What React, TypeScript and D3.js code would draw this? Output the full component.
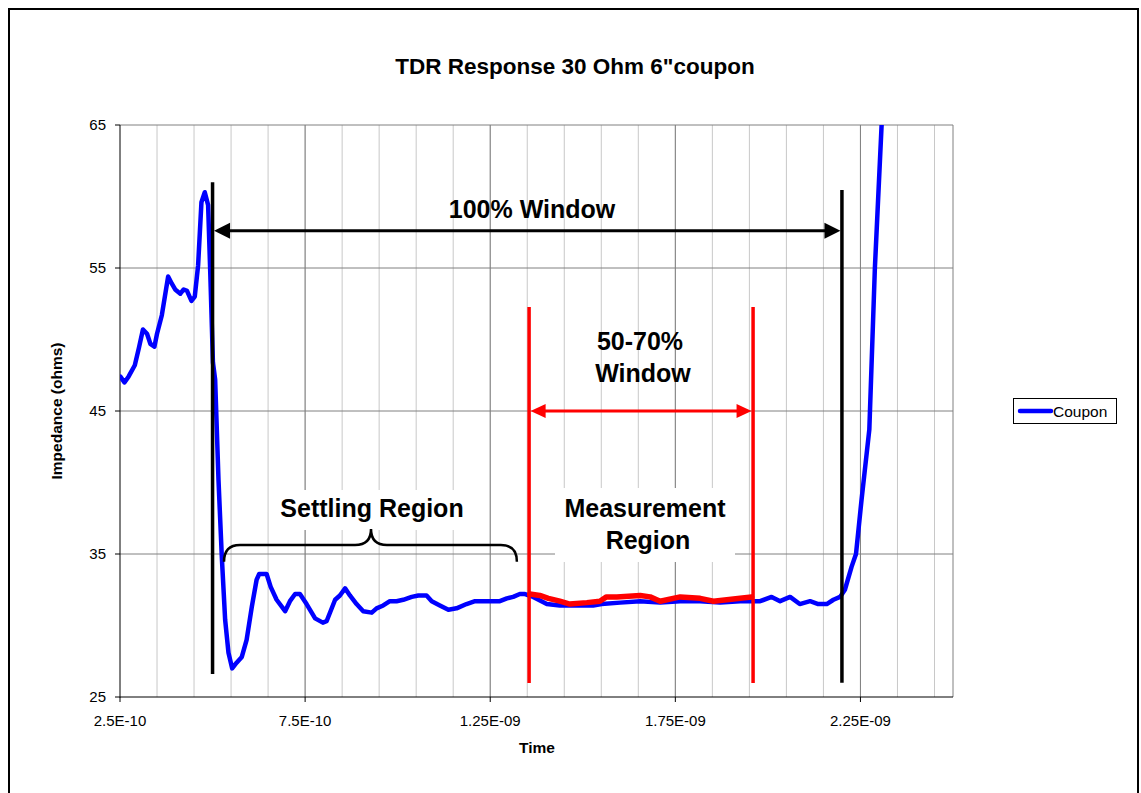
import React from "react";
import * as d3 from "d3";

// TDR trace of the 30 ohm coupon (time in seconds, impedance in ohms)
const couponTime = [
  2.51e-10, 2.62e-10, 2.73e-10, 2.9e-10, 3.01e-10, 3.12e-10, 3.23e-10, 3.32e-10, 3.43e-10, 3.5e-10,
  3.63e-10, 3.8e-10, 3.9e-10, 3.99e-10, 4.13e-10, 4.22e-10, 4.31e-10, 4.43e-10, 4.52e-10, 4.61e-10,
  4.7e-10, 4.79e-10, 4.88e-10, 4.94e-10, 5.01e-10, 5.07e-10, 5.16e-10, 5.25e-10, 5.34e-10, 5.43e-10,
  5.53e-10, 5.65e-10, 5.79e-10, 5.92e-10, 6.06e-10, 6.19e-10, 6.26e-10, 6.46e-10, 6.57e-10, 6.73e-10,
  6.96e-10, 7.09e-10, 7.23e-10, 7.36e-10, 7.54e-10, 7.77e-10, 7.98e-10, 8.08e-10, 8.31e-10, 8.44e-10,
  8.58e-10, 8.71e-10, 8.89e-10, 9.07e-10, 9.3e-10, 9.43e-10, 9.61e-10, 9.79e-10, 9.97e-10, 1.015e-9,
  1.038e-9, 1.056e-9, 1.078e-9, 1.092e-9, 1.114e-9, 1.137e-9, 1.159e-9, 1.186e-9, 1.209e-9, 1.231e-9,
  1.258e-9, 1.276e-9, 1.295e-9, 1.312e-9, 1.33e-9, 1.344e-9, 1.366e-9, 1.403e-9, 1.438e-9, 1.474e-9,
  1.528e-9, 1.551e-9, 1.601e-9, 1.655e-9, 1.709e-9, 1.763e-9, 1.817e-9, 1.871e-9, 1.925e-9, 1.979e-9,
  2.01e-9, 2.033e-9, 2.06e-9, 2.086e-9, 2.114e-9, 2.136e-9, 2.159e-9, 2.177e-9, 2.195e-9, 2.208e-9,
  2.226e-9, 2.238e-9, 2.253e-9, 2.274e-9, 2.289e-9, 2.307e-9, 2.313e-9,
];
const couponOhms = [
  47.4, 47.0, 47.4, 48.2, 49.4, 50.7, 50.4, 49.7, 49.5, 50.4,
  51.7, 54.4, 53.9, 53.5, 53.2, 53.5, 53.4, 52.7, 53.0, 55.2,
  59.6, 60.3, 59.4, 54.5, 48.4, 47.2, 40.2, 34.8, 30.4, 28.1,
  27.0, 27.4, 27.8, 29.0, 31.3, 33.2, 33.6, 33.6, 32.7, 31.8,
  31.0, 31.7, 32.2, 32.2, 31.5, 30.5, 30.2, 30.3, 31.8, 32.1,
  32.6, 32.1, 31.5, 31.0, 30.9, 31.2, 31.4, 31.7, 31.7, 31.8,
  32.0, 32.1, 32.1, 31.7, 31.4, 31.1, 31.2, 31.5, 31.7, 31.7,
  31.7, 31.7, 31.9, 32.0, 32.2, 32.2, 32.0, 31.5, 31.4, 31.4,
  31.4, 31.5, 31.6, 31.7, 31.6, 31.7, 31.7, 31.6, 31.7, 31.7,
  32.0, 31.7, 32.0, 31.5, 31.7, 31.5, 31.5, 31.8, 32.0, 32.5,
  34.1, 35.0, 38.8, 43.7, 55.0, 64.9, 68.0,
];

// Portion of the trace inside the 50-70% measurement window
const windowTime = [
  1.357e-9, 1.384e-9, 1.407e-9, 1.438e-9, 1.465e-9, 1.511e-9, 1.546e-9, 1.564e-9, 1.592e-9,
  1.655e-9, 1.682e-9, 1.709e-9, 1.763e-9, 1.817e-9, 1.853e-9, 1.889e-9, 1.925e-9, 1.956e-9,
];
const windowOhms = [
  32.2, 32.1, 31.9, 31.7, 31.5, 31.6, 31.7, 32.0, 32.0,
  32.1, 32.0, 31.7, 32.0, 31.9, 31.7, 31.8, 31.9, 32.0,
];

const xMajorTicks = [2.5e-10, 7.5e-10, 1.25e-9, 1.75e-9, 2.25e-9];
const xTickLabels = ["2.5E-10", "7.5E-10", "1.25E-09", "1.75E-09", "2.25E-09"];
const yTicks = [25, 35, 45, 55, 65];

// Annotation anchors in data units
const fullWindow = { start: 5.0e-10, end: 2.2e-9 };
const measureWindow = { start: 1.355e-9, end: 1.96e-9 };

const FONT = "Arial, 'Liberation Sans', sans-serif";

export default function App() {
  const left = 120, right = 953, top = 125, bottom = 697;
  const x = d3.scaleLinear().domain([2.5e-10, 2.5e-9]).range([left, right]);
  const y = d3.scaleLinear().domain([25, 65]).range([bottom, top]);

  const coupon = couponTime.map((t, i) => [t, couponOhms[i]] as [number, number]);
  const win = windowTime.map((t, i) => [t, windowOhms[i]] as [number, number]);
  const line = d3.line<[number, number]>().x((d) => x(d[0])).y((d) => y(d[1])).curve(d3.curveLinear);

  const minorX = d3.range(0, 22).map((i) => 3.5e-10 + i * 1e-10);

  // curly brace under "Settling Region"
  const bx0 = x(5.31e-10), bx1 = x(1.322e-9), bxm = x(9.28e-10);
  const byEnd = y(34.46), byBar = y(35.63), byTip = y(36.75);
  const r = 16;
  const brace = `M${bx0},${byEnd} Q${bx0},${byBar} ${bx0 + r},${byBar} L${bxm - r},${byBar} Q${bxm},${byBar} ${bxm},${byTip} Q${bxm},${byBar} ${bxm + r},${byBar} L${bx1 - r},${byBar} Q${bx1},${byBar} ${bx1},${byEnd}`;

  const arrowHead = (xt: number, yt: number, dir: number, len: number, half: number, fill: string) => (
    <path d={`M${xt},${yt} L${xt - dir * len},${yt - half} L${xt - dir * len},${yt + half} Z`} fill={fill} />
  );

  const blackY = y(57.6);
  const redY = y(45);

  return (
    <svg
      width={1141}
      height={793}
      style={{ position: "absolute", left: 0, top: 0, background: "#fff" }}
      fontFamily={FONT}
    >
      {/* chart frame */}
      <rect x={9} y={9} width={1129} height={800} fill="#fff" stroke="#000" strokeWidth={2} />

      <text x={575} y={74} textAnchor="middle" fontSize={22.5} fontWeight="bold">
        TDR Response 30 Ohm 6"coupon
      </text>

      {/* plot area */}
      <rect x={left} y={top} width={right - left} height={bottom - top} fill="#fff" />
      {minorX.map((v) => (
        <line key={"mx" + v} x1={x(v)} x2={x(v)} y1={top} y2={bottom} stroke="#c8c8c8" strokeWidth={1} />
      ))}
      {xMajorTicks.slice(1).map((v) => (
        <line key={"Mx" + v} x1={x(v)} x2={x(v)} y1={top} y2={bottom} stroke="#808080" strokeWidth={1} />
      ))}
      {yTicks.slice(1).map((v) => (
        <line key={"gy" + v} x1={left} x2={right} y1={y(v)} y2={y(v)} stroke="#808080" strokeWidth={1} />
      ))}
      <line x1={right} x2={right} y1={top} y2={bottom} stroke="#808080" strokeWidth={1} />

      {/* axes */}
      <line x1={left} x2={left} y1={top} y2={bottom + 0.5} stroke="#000" strokeWidth={1} />
      <line x1={left} x2={right} y1={bottom} y2={bottom} stroke="#000" strokeWidth={1} />
      {xMajorTicks.map((v, i) => (
        <g key={"xt" + v}>
          <line x1={x(v)} x2={x(v)} y1={bottom} y2={bottom + 5} stroke="#000" />
          <text x={x(v)} y={726} textAnchor="middle" fontSize={15}>
            {xTickLabels[i]}
          </text>
        </g>
      ))}
      {yTicks.map((v) => (
        <g key={"yt" + v}>
          <line x1={left - 5} x2={left} y1={y(v)} y2={y(v)} stroke="#000" />
          <text x={106} y={y(v) + 5} textAnchor="end" fontSize={15}>
            {v}
          </text>
        </g>
      ))}
      <text x={537} y={753} textAnchor="middle" fontSize={15.5} fontWeight="bold">
        Time
      </text>
      <text
        transform={`translate(62,${(top + bottom) / 2}) rotate(-90)`}
        textAnchor="middle"
        fontSize={15.5}
        fontWeight="bold"
      >
        Impedance (ohms)
      </text>

      {/* series */}
      <defs>
        <clipPath id="plotClip">
          <rect x={left} y={top} width={right - left} height={bottom - top} />
        </clipPath>
      </defs>
      <g clipPath="url(#plotClip)">
        <path d={line(coupon) ?? ""} fill="none" stroke="#0000ff" strokeWidth={4.5} strokeLinejoin="round" strokeLinecap="round" />
        <path d={line(win) ?? ""} fill="none" stroke="#ff0000" strokeWidth={5.5} strokeLinejoin="round" strokeLinecap="round" />
      </g>

      {/* legend */}
      <rect x={1013.5} y={398.5} width={103} height={25} fill="#fff" stroke="#000" strokeWidth={1} />
      <line x1={1020} x2={1051} y1={411} y2={411} stroke="#0000ff" strokeWidth={4.5} strokeLinecap="round" />
      <text x={1053} y={417} fontSize={15.5}>Coupon</text>

      {/* annotation labels */}
      <rect x={270} y={490} width={205} height={40} fill="#fff" />
      <text x={372} y={517} textAnchor="middle" fontSize={25} fontWeight="bold">Settling Region</text>
      <rect x={555} y={488} width={180} height={74} fill="#fff" />
      <text x={645} y={517} textAnchor="middle" fontSize={25} fontWeight="bold">Measurement</text>
      <text x={648} y={549} textAnchor="middle" fontSize={25} fontWeight="bold">Region</text>
      <text x={532} y={218} textAnchor="middle" fontSize={25} fontWeight="bold">100% Window</text>
      <text x={640} y={350} textAnchor="middle" fontSize={25} fontWeight="bold">50-70%</text>
      <text x={643} y={382} textAnchor="middle" fontSize={25} fontWeight="bold">Window</text>

      <path d={brace} fill="none" stroke="#000" strokeWidth={2.5} />

      {/* 100% window markers */}
      <line x1={x(fullWindow.start)} x2={x(fullWindow.start)} y1={y(61.0)} y2={y(26.6)} stroke="#000" strokeWidth={3.5} />
      <line x1={x(fullWindow.end)} x2={x(fullWindow.end)} y1={y(60.45)} y2={y(26.0)} stroke="#000" strokeWidth={3.5} />
      <line x1={x(fullWindow.start) + 12} x2={x(fullWindow.end) - 12} y1={blackY} y2={blackY} stroke="#000" strokeWidth={3} />
      {arrowHead(x(fullWindow.start) + 1.5, blackY, -1, 16, 8, "#000")}
      {arrowHead(x(fullWindow.end) - 1.5, blackY, 1, 16, 8, "#000")}

      {/* 50-70% window markers */}
      <line x1={x(measureWindow.start)} x2={x(measureWindow.start)} y1={y(52.27)} y2={y(25.98)} stroke="#ff0000" strokeWidth={3.5} />
      <line x1={x(measureWindow.end)} x2={x(measureWindow.end)} y1={y(52.27)} y2={y(25.98)} stroke="#ff0000" strokeWidth={3.5} />
      <line x1={x(measureWindow.start) + 12} x2={x(measureWindow.end) - 12} y1={redY} y2={redY} stroke="#ff0000" strokeWidth={3} />
      {arrowHead(x(measureWindow.start) + 1.5, redY, -1, 15, 7, "#ff0000")}
      {arrowHead(x(measureWindow.end) - 1.5, redY, 1, 15, 7, "#ff0000")}
    </svg>
  );
}
